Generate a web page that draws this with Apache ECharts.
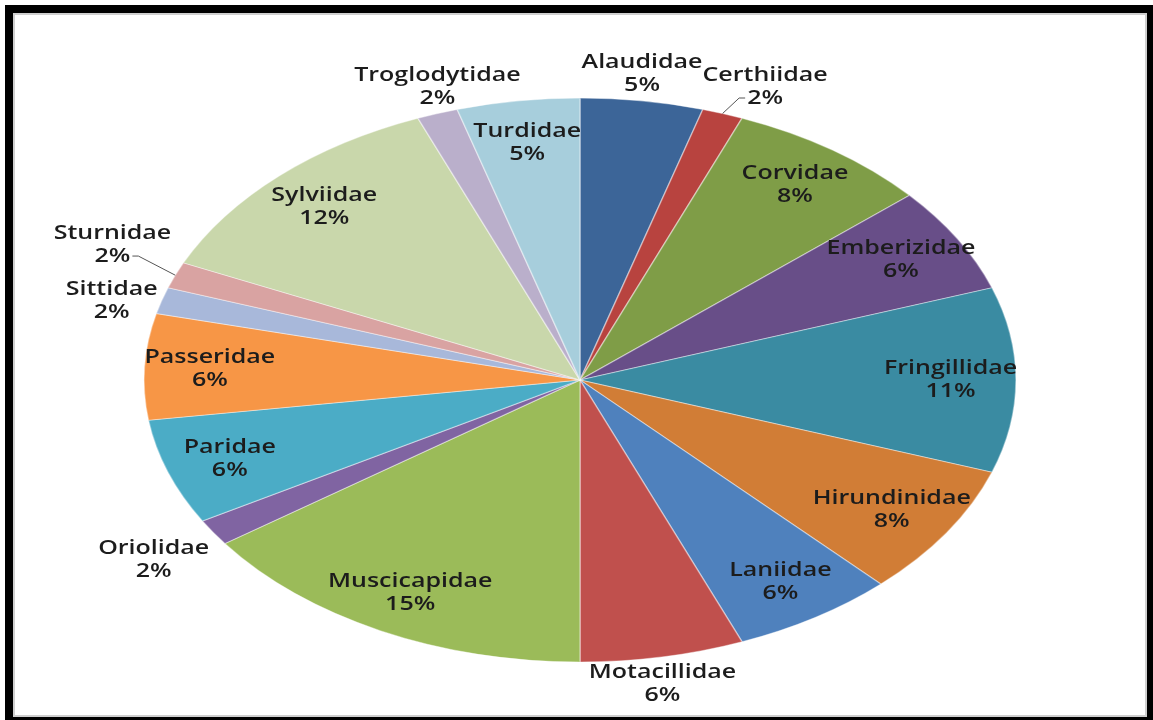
<!DOCTYPE html>
<html>
<head>
<meta charset="utf-8">
<title>Bird families</title>
<script src="https://cdn.jsdelivr.net/npm/echarts@6/dist/echarts.min.js"></script>
<style>
    html, body { margin: 0; padding: 0; width: 1153px; height: 720px; overflow: hidden; background: #fff; }
    #frame {
        position: absolute; left: 5px; top: 5px; width: 1134px; height: 704px;
        border: 8px solid #000; box-shadow: inset 0 0 0 2px #cfcfcf;
    }
    #main { position: absolute; left: 0; top: 0; width: 1153px; height: 720px; }
</style>
</head>
<body>
<div id="frame"></div>
<div id="main"></div>
<script>
// species count per family, clockwise from 12 o'clock
var families = ['Alaudidae', 'Certhiidae', 'Corvidae', 'Emberizidae', 'Fringillidae', 'Hirundinidae',
    'Laniidae', 'Motacillidae', 'Muscicapidae', 'Oriolidae', 'Paridae', 'Passeridae',
    'Sittidae', 'Sturnidae', 'Sylviidae', 'Troglodytidae', 'Turdidae'];
var counts = [3, 1, 5, 4, 7, 5, 4, 4, 10, 1, 4, 4, 1, 1, 8, 1, 3];

var colors = ['#3C6598', '#B8433F', '#7F9D47', '#684E88', '#3A8BA2', '#D17D36',
    '#4F81BD', '#C0504D', '#9BBB59', '#8064A2', '#4BACC6', '#F79646',
    '#A8B8DA', '#D9A3A2', '#C9D7AB', '#BAAFCB', '#A7CEDC'];
// slices whose label sits outside the pie
var outsideLabels = ['Alaudidae', 'Certhiidae', 'Motacillidae', 'Oriolidae', 'Sittidae', 'Sturnidae', 'Troglodytidae'];

// the pie is drawn stretched into an ellipse, like the original picture
var cx = 580, cy = 380, ry = 282, stretch = 1.546;
var fontFamily = '"Open Sans", "DejaVu Sans", sans-serif', fontSize = 20, fontWeight = 600;
var textStretch = 1.25, lineH = 23, gap = 4, padX = 0, padY = 10;

var total = counts.reduce(function(a, b) { return a + b; }, 0);

var measureCtx = document.createElement('canvas').getContext('2d');
measureCtx.font = fontWeight + ' ' + fontSize + 'px ' + fontFamily;
function textWidth(s) {
    return measureCtx.measureText(s).width * textStretch;
}

function overlaps(a, b) {
    return Math.abs(a.x - b.x) < (a.w + b.w) / 2 && Math.abs(a.y - b.y) < (a.h + b.h) / 2;
}

/* label positions, computed from each slice's mid angle */
var labels = [];
var placed = [];
var cum = 0;
for (var i = 0; i < counts.length; i++) {
    var mid = (cum + counts[i] / 2) / total * Math.PI * 2;
    cum += counts[i];
    var s = Math.sin(mid), c = Math.cos(mid);
    var pct = Math.round(counts[i] / total * 100) + '%';
    var lab = {
        text: families[i] + '\n' + pct,
        pctW: textWidth(pct),
        w: Math.max(textWidth(families[i]), textWidth(pct)),
        h: lineH * 2,
        line: null
    };
    if (outsideLabels.indexOf(families[i]) < 0) {
        lab.x = cx + s * ry * 0.85 * stretch;
        lab.y = cy - c * ry * 0.85;
    } else {
        var px = cx + s * ry * stretch, py = cy - c * ry;
        lab.x = Math.abs(s) > 0.5 ? px + Math.sign(s) * (lab.w / 2 + gap) : px;
        lab.y = Math.abs(c) > 0.5 ? py - Math.sign(c) * (lab.h / 2 + gap) : py;
        // push along the clockwise direction when it hits an earlier label
        var tx = c, ty = s, moved = false;
        placed.forEach(function(b) {
            if (!overlaps(lab, b)) return;
            if (Math.abs(tx) >= Math.abs(ty)) {
                lab.x = tx > 0 ? b.x + b.w / 2 + lab.w / 2 + padX : b.x - b.w / 2 - lab.w / 2 - padX;
            } else {
                lab.y = ty > 0 ? b.y + b.h / 2 + lab.h / 2 + padY : b.y - b.h / 2 - lab.h / 2 - padY;
            }
            moved = true;
        });
        if (moved) {
            var ey = lab.y + lineH / 2;
            var side = px < lab.x ? -1 : 1;
            var ex = lab.x + side * (lab.pctW / 2 + 2);
            lab.line = [[px, py], [ex + side * 6, ey], [ex, ey]];
        }
        placed.push(lab);
    }
    labels.push(lab);
}

var starts = [];
cum = 0;
counts.forEach(function(v) {
    starts.push(cum);
    cum += v;
});

function renderSlice(params, api) {
    var i = params.dataIndex;
    var a0 = -Math.PI / 2 + starts[i] / total * Math.PI * 2;
    var a1 = -Math.PI / 2 + (starts[i] + counts[i]) / total * Math.PI * 2;
    var lab = labels[i];
    var children = [{
        type: 'sector',
        shape: { cx: cx, cy: cy, r: ry, r0: 0, startAngle: a0, endAngle: a1, clockwise: true },
        scaleX: stretch,
        originX: cx,
        originY: cy,
        style: { fill: colors[i], stroke: 'rgba(255,255,255,0.4)', lineWidth: 1, strokeNoScale: true }
    }, {
        type: 'text',
        x: lab.x,
        y: lab.y,
        scaleX: textStretch,
        z2: 10,
        style: {
            text: lab.text, x: 0, y: 0,
            align: 'center', verticalAlign: 'middle',
            fontSize: fontSize, fontFamily: fontFamily, fontWeight: fontWeight, lineHeight: lineH,
            fill: '#1c1c1c'
        }
    }];
    if (lab.line) {
        children.push({
            type: 'polyline',
            z2: 10,
            shape: { points: lab.line },
            style: { stroke: '#555', lineWidth: 1, fill: null }
        });
    }
    return { type: 'group', children: children };
}

var chart = echarts.init(document.getElementById('main'));
chart.setOption({
    backgroundColor: 'transparent',
    animation: false,
    series: [{
        type: 'custom',
        coordinateSystem: 'none',
        silent: true,
        renderItem: renderSlice,
        data: counts
    }]
});
</script>
</body>
</html>
